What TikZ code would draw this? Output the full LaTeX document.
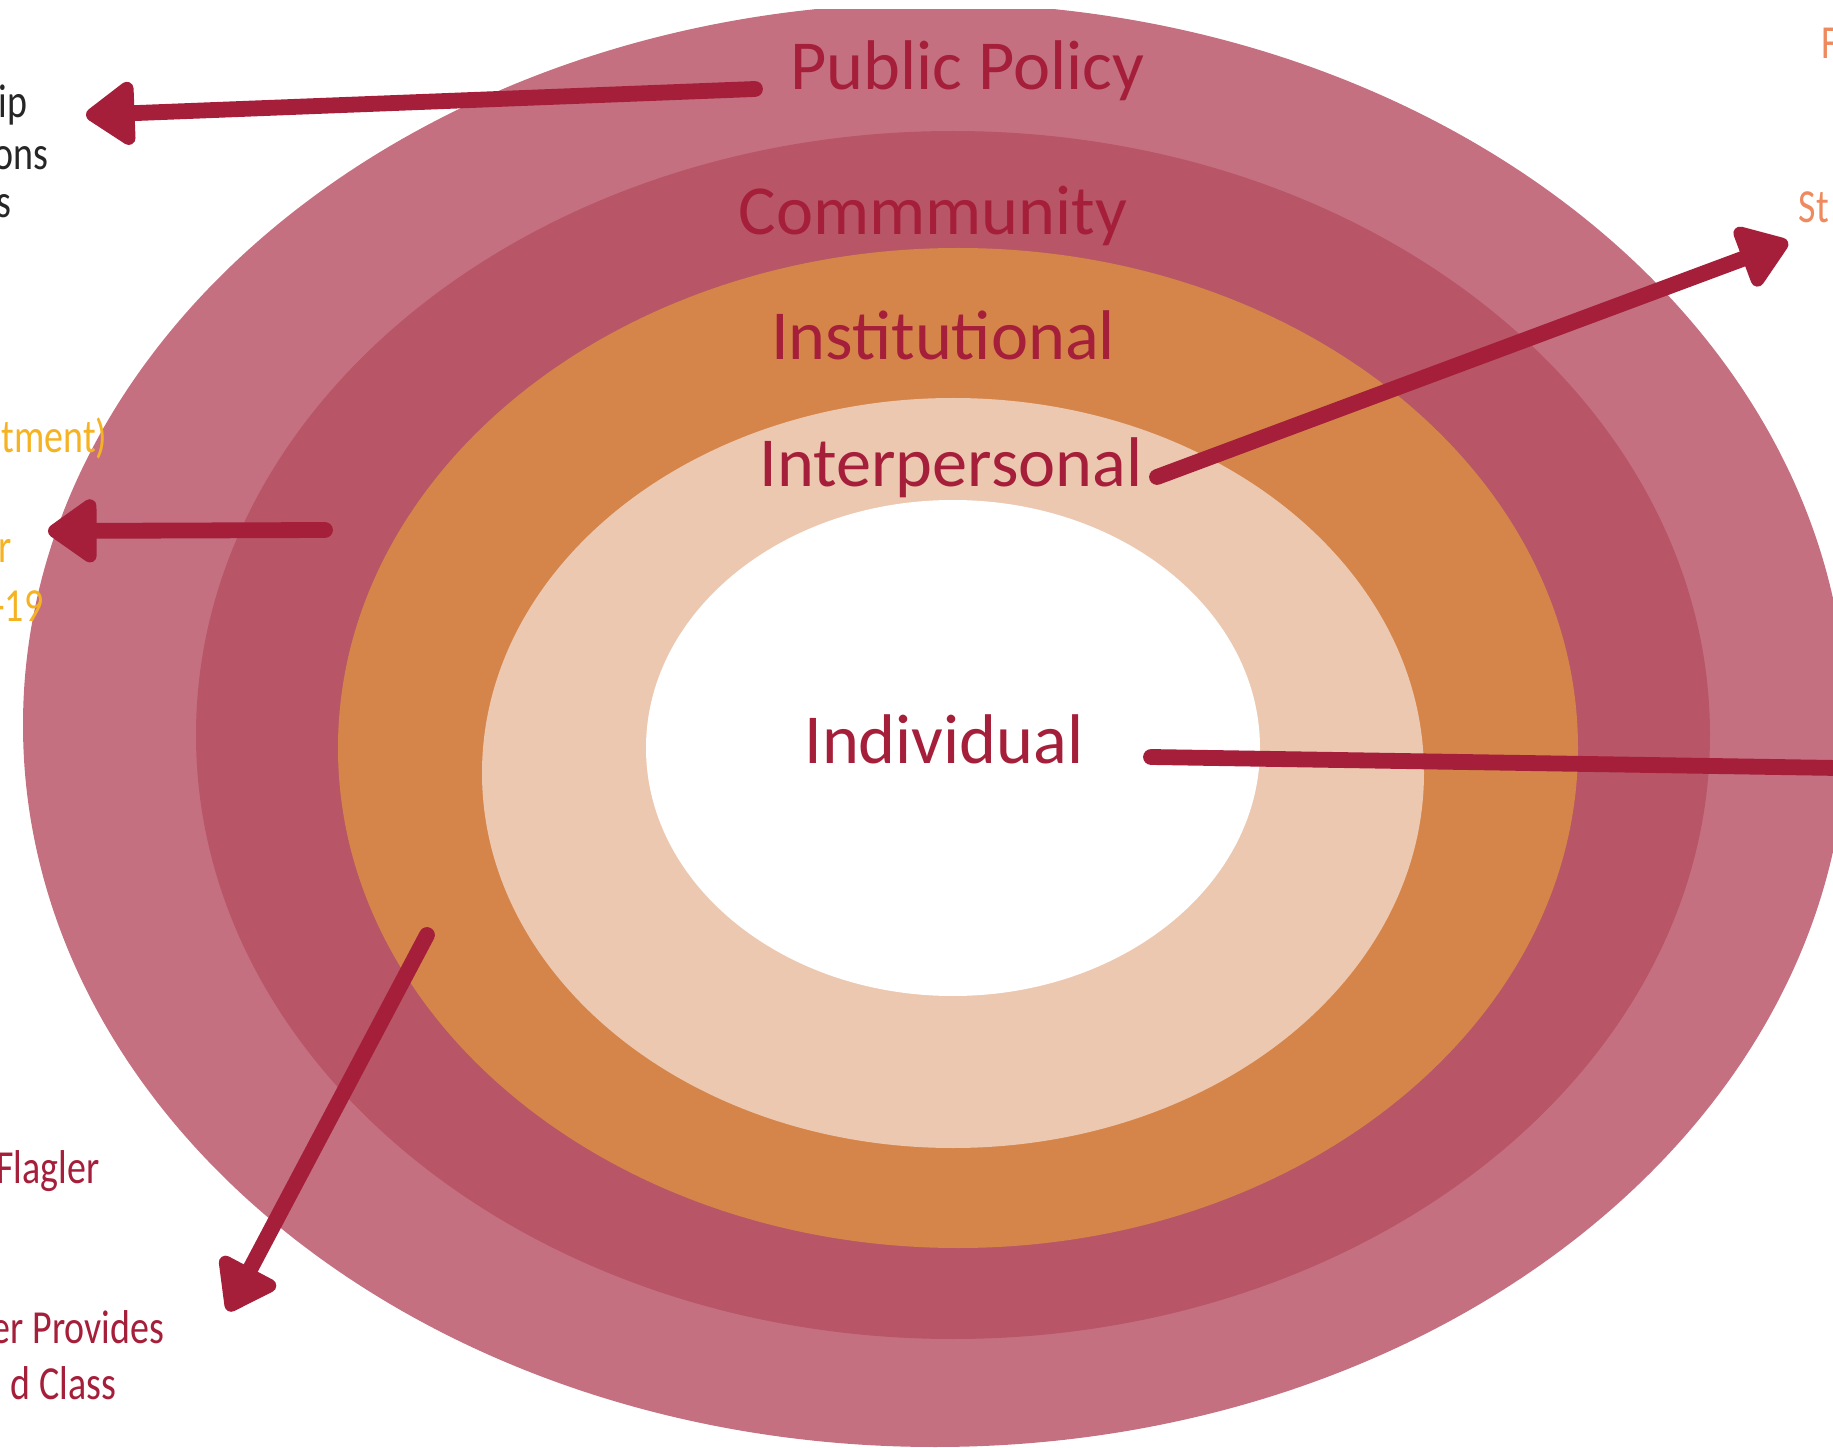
\documentclass[tikz,border=0pt]{standalone}
\usepackage{fontspec}
\setmainfont{Carlito}
\newfontfamily\narrowfont[FakeStretch=0.8]{Carlito}
\usepackage{tikz}
\usetikzlibrary{calc,positioning}
\usetikzlibrary{arrows.meta}
\definecolor{policy}{HTML}{C47080}
\definecolor{commun}{HTML}{B85567}
\definecolor{instit}{HTML}{D5854A}
\definecolor{inter}{HTML}{EDC8B0}
\definecolor{crimson}{HTML}{A51F3A}
\definecolor{gold}{HTML}{F5B324}
\definecolor{coral}{HTML}{EE8A5E}
\tikzset{>={Triangle[width=7.2mm,length=5.4mm,round]}}

\begin{document}
\begin{tikzpicture}[x=0.1mm, y=-0.1mm]
      \tikzstyle{lvl} = [text=crimson, font=\fontsize{20}{24}\selectfont, anchor=base, inner sep=0pt]
      \tikzstyle{cutl} = [font=\narrowfont\fontsize{13.5}{16}\selectfont, anchor=base east, inner sep=0pt]
      \tikzstyle{cutr} = [font=\narrowfont\fontsize{13.5}{16}\selectfont, anchor=base west, inner sep=0pt]
      \tikzstyle{pointer} = [->, draw=crimson, line width=4.5pt, line cap=round]

      \clip (0,0) rectangle (1833,1448);

      % rings, outside in
      \begin{scope}
        \clip (0,10) rectangle (1833,1448);
        \fill[policy] (935,725) ellipse [x radius=912, y radius=722];
      \end{scope}
      \fill[commun] (953,735) ellipse [x radius=757, y radius=604];
      \fill[instit] (958,748) ellipse [x radius=620, y radius=500];
      \fill[inter] (953,773) ellipse [x radius=471, y radius=375];
      \fill[white] (953,748) ellipse [x radius=307, y radius=248];

      \node[lvl] (pp) at (967,90) {Public Policy};
      \node[lvl] (cm) at (933,235) {Commmunity};
      \node[lvl] (in) at (943,360) {Institutional};
      \node[lvl] (ip) at (951,487) {Interpersonal};
      \node[lvl] (iv) at (944,763) {Individual};

      % cut-off text at the edges
      \node[cutl, text=black!85] (t1) at (28,118) {ip};
      \node[cutl, text=black!85] (t2) at (49,170) {ons};
      \node[cutl, text=black!85] (t3) at (12,218) {s};
      \node[cutl, text=gold] (t4) at (108,453) {tment)};
      \node[cutl, text=gold] (t5) at (12,563) {r};
      \node[cutl, text=gold] (t6) at (44,622) {-19};
      \node[cutl, text=crimson] (t7) at (100,1183) {Flagler};
      \node[cutl, text=crimson] (t8) at (165,1343) {er Provides};
      \node[cutl, text=crimson] (t9) at (117,1399) {d Class};
      \node[cutr, text=coral] (t10) at (1821,59) {F};
      \node[cutr, text=coral] (t11) at (1798,223) {St};

      \coordinate (pp-s) at (755,89);
      \coordinate (pp-e) at (86,115);
      \coordinate (cm-s) at (325,530);
      \coordinate (cm-e) at (48,531);
      \coordinate (in-s) at (427,935);
      \coordinate (in-e) at (228,1311);
      \coordinate (ip-s) at (1157,477);
      \coordinate (ip-e) at (1788,242);
      \coordinate (iv-s) at (1151,757);
      \coordinate (iv-e) at (1900,769);

      \draw[pointer] (pp-s) to (pp-e);
      \draw[pointer] (cm-s) to (cm-e);
      \draw[pointer] (in-s) to (in-e);
      \draw[pointer] (ip-s) to (ip-e);
      \draw[pointer, -] (iv-s) to (iv-e);
\end{tikzpicture}
\end{document}
